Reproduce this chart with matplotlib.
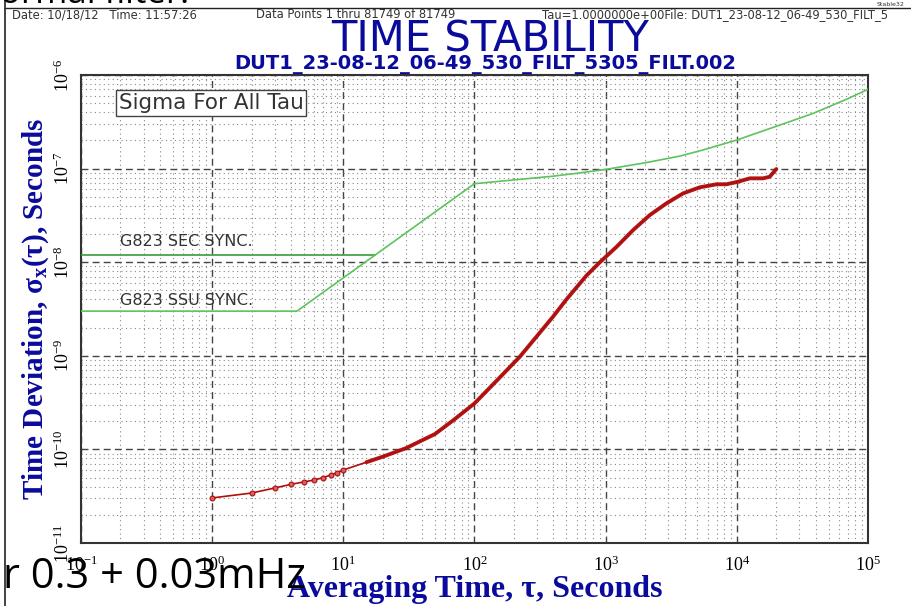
import matplotlib
matplotlib.use("Agg")
import matplotlib.pyplot as plt
from matplotlib.lines import Line2D
from matplotlib.ticker import LogLocator, LogFormatterSciNotation, NullFormatter

plt.rcParams['mathtext.fontset'] = 'custom'
plt.rcParams['mathtext.rm'] = 'Liberation Serif'
plt.rcParams['mathtext.it'] = 'Liberation Serif:italic'
plt.rcParams['mathtext.bf'] = 'Liberation Serif:bold'

# ---- data ----
tau = [1, 2, 3, 4, 5, 6, 7, 8, 9, 10, 15, 20, 30, 50, 69, 100, 150, 222, 300, 398,
       500, 714, 904, 1211, 1622, 2172, 2911, 3900, 5224, 7000, 8340, 10200,
       12560, 15850, 17800, 20000]
tdev = [3.03e-11, 3.42e-11, 3.87e-11, 4.24e-11, 4.49e-11, 4.71e-11, 4.99e-11,
        5.32e-11, 5.64e-11, 6.03e-11, 7.3e-11, 8.36e-11, 1.03e-10, 1.46e-10,
        2.05e-10, 3.1e-10, 5.55e-10, 9.8e-10, 1.63e-9, 2.63e-9, 3.97e-9, 7.2e-9,
        1.0e-8, 1.46e-8, 2.21e-8, 3.19e-8, 4.26e-8, 5.44e-8, 6.31e-8, 6.8e-8,
        6.8e-8, 7.24e-8, 7.87e-8, 7.87e-8, 8.18e-8, 9.9e-8]

ssu_tau = [0.1, 4.43, 100, 398, 636, 1000, 2046, 3675, 5510, 1e4, 21300, 38200,
           68500, 1e5]
ssu_val = [3.0e-9, 3.0e-9, 6.9e-8, 8.3e-8, 9.0e-8, 9.8e-8, 1.16e-7, 1.36e-7,
           1.58e-7, 2.02e-7, 2.92e-7, 3.89e-7, 5.5e-7, 7.03e-7]

sec_tau = [0.1, 17.3]
sec_val = [1.19e-8, 1.19e-8]

header_date = "Date: 10/18/12   Time: 11:57:26"
header_pts = "Data Points 1 thru 81749 of 81749"
header_file = "Tau=1.0000000e+00File: DUT1_23-08-12_06-49_530_FILT_5"
title = "TIME STABILITY"
subtitle = "DUT1_23-08-12_06-49_530_FILT_5305_FILT.002"

W, H = 912, 606
fig = plt.figure(figsize=(W / 100, H / 100), dpi=100)
ax = fig.add_axes([81 / W, 1 - 543 / H, (868 - 81) / W, (543 - 75) / H])

blue = '#0a0a9c'
red = '#b00d0d'

ax.set_xscale('log')
ax.set_yscale('log')
ax.set_xlim(0.1, 1e5)
ax.set_ylim(1e-11, 1e-6)

ax.xaxis.set_major_locator(LogLocator(base=10, numticks=20))
ax.yaxis.set_major_locator(LogLocator(base=10, numticks=20))
ax.xaxis.set_minor_locator(LogLocator(base=10, subs=range(2, 10), numticks=100))
ax.yaxis.set_minor_locator(LogLocator(base=10, subs=range(2, 10), numticks=100))
ax.xaxis.set_major_formatter(LogFormatterSciNotation())
ax.yaxis.set_major_formatter(LogFormatterSciNotation())
ax.xaxis.set_minor_formatter(NullFormatter())
ax.yaxis.set_minor_formatter(NullFormatter())

ax.grid(which='major', color='#444444', linestyle=(0, (5, 3)), linewidth=1.0)
ax.grid(which='minor', color='#888888', linestyle=(0, (1, 3)), linewidth=0.8)
ax.tick_params(which='both', length=0)
ax.tick_params(axis='x', pad=9, labelsize=13, labelfontfamily='Liberation Serif')
ax.tick_params(axis='y', pad=6, labelsize=13, labelrotation=90,
               labelfontfamily='Liberation Serif')
for lab in ax.get_yticklabels():
    lab.set_va('center')
for s in ax.spines.values():
    s.set_color('#333333')
    s.set_linewidth(1.5)

# masks
ax.plot(sec_tau, sec_val, color='#3c9a3c', lw=1.2, zorder=3)
ax.plot(ssu_tau, ssu_val, color='#5cc45c', lw=1.2, zorder=3)

# data
ax.plot(tau, tdev, color=red, lw=1.2, zorder=4)
ax.plot(tau[:10], tdev[:10], 'o', color=red, ms=3.5, mfc='#d86060', mew=0.8, zorder=5)
ax.plot(tau[10:], tdev[10:], color=red, lw=2.8, alpha=0.95, zorder=4,
        solid_capstyle='round', solid_joinstyle='round')

ax.text((120 - 81) / 787, 1 - (241.5 - 75) / 468, "G823 SEC SYNC.", transform=ax.transAxes,
        fontsize=11.5, color='#333333', va='center')
ax.text((120 - 81) / 787, 1 - (300 - 75) / 468, "G823 SSU SYNC.", transform=ax.transAxes,
        fontsize=11.5, color='#333333', va='center')
ax.text(211 / W, 1 - 103 / H, "Sigma For All Tau", transform=fig.transFigure,
        fontsize=15.5, color='#333333', ha='center', va='center',
        bbox=dict(boxstyle='square,pad=0.12', fc='white', ec='#444444', lw=1.0))

ax.set_xlabel(r"Averaging Time, τ, Seconds", fontsize=23, color=blue,
              family='Liberation Serif', fontweight='bold')
ax.set_ylabel(r"Time Deviation, σ$_{\mathbf{x}}$(τ), Seconds", fontsize=21, color=blue,
              family='Liberation Serif', fontweight='bold')
ax.xaxis.set_label_coords(0.5, -0.068)
ax.yaxis.set_label_coords(-0.038, 0.5)

# header / titles
fig.text(12 / W, 1 - 15 / H, header_date, fontsize=8.3, color='#333333', va='center')
fig.text(256 / W, 1 - 15 / H, header_pts, fontsize=8.3, color='#333333', va='center')
fig.text(542 / W, 1 - 15 / H, header_file, fontsize=8.3, color='#333333', va='center')
fig.text(905 / W, 1 - 4 / H, "Stable32", fontsize=4.5, color='#333333', va='center', ha='right')
fig.text(490 / W, 1 - 39 / H, title, fontsize=30, color=blue, ha='center', va='center')
fig.text(485 / W, 1 - 64 / H, subtitle, fontsize=14, color=blue, ha='center',
         va='center', fontweight='bold')

# frame lines
fig.add_artist(Line2D([5 / W, 5 / W], [0, 1], color='#222222', lw=1.2))
fig.add_artist(Line2D([5 / W, 1], [1 - 8 / H, 1 - 8 / H], color='#222222', lw=1.0))

# overlaid annotations
fig.text(0 / W, 1 - 3 / H, "ormal filter:", fontsize=25, family='Open Sans',
         color='black', va='baseline')
fig.text(3 / W, 1 - 588 / H, "r 0.3 + 0.03mHz", fontsize=30, family='Open Sans',
         color='black', va='baseline')

fig.savefig("out.png", dpi=100)
